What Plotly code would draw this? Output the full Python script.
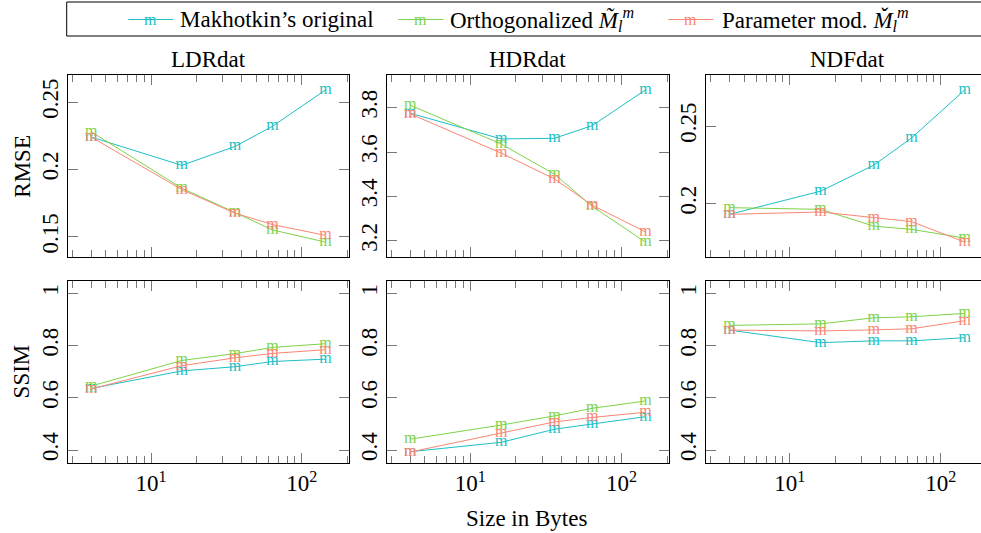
import numpy as np
import plotly.graph_objects as go

# ---------------- data ----------------
sizes = [4, 16, 36, 64, 144]
datasets = ["LDRdat", "HDRdat", "NDFdat"]
metrics = ["RMSE", "SSIM"]
series_names = [
    "Makhotkin’s original",
    "Orthogonalized <i>M̃</i><sub><i>l</i></sub><sup><i>m</i></sup>",
    "Parameter mod. <i>M̌</i><sub><i>l</i></sub><sup><i>m</i></sup>",
]
marker_text = "m"

ldr_rmse_orig = [0.224, 0.203, 0.217, 0.232, 0.259]
ldr_rmse_orth = [0.228, 0.186, 0.168, 0.155, 0.146]
ldr_rmse_param = [0.224, 0.185, 0.1675, 0.159, 0.151]

hdr_rmse_orig = [3.775, 3.659, 3.662, 3.719, 3.88]
hdr_rmse_orth = [3.811, 3.636, 3.50, 3.355, 3.194]
hdr_rmse_param = [3.772, 3.595, 3.479, 3.36, 3.24]

ndf_rmse_orig = [0.1931, 0.208, 0.2248, 0.2423, 0.2733]
ndf_rmse_orth = [0.1974, 0.1963, 0.1855, 0.1834, 0.1778]
ndf_rmse_param = [0.1931, 0.1946, 0.191, 0.1884, 0.1752]

ldr_ssim_orig = [0.636, 0.703, 0.719, 0.739, 0.748]
ldr_ssim_orth = [0.645, 0.743, 0.769, 0.793, 0.807]
ldr_ssim_param = [0.634, 0.723, 0.753, 0.770, 0.784]

hdr_ssim_orig = [0.394, 0.43, 0.48, 0.499, 0.528]
hdr_ssim_orth = [0.442, 0.496, 0.531, 0.56, 0.588]
hdr_ssim_param = [0.393, 0.464, 0.508, 0.525, 0.545]

ndf_ssim_orig = [0.859, 0.811, 0.818, 0.818, 0.83]
ndf_ssim_orth = [0.877, 0.883, 0.906, 0.91, 0.923]
ndf_ssim_param = [0.859, 0.856, 0.86, 0.864, 0.895]

x_major_ticks = [10, 100]
x_major_labels = ["10<sup>1</sup>", "10<sup>2</sup>"]
x_minor_ticks = [3, 4, 5, 6, 7, 8, 9, 20, 30, 40, 50, 60, 70, 80, 90, 200]
rmse_ticks = {"LDRdat": [0.15, 0.2, 0.25],
              "HDRdat": [3.2, 3.4, 3.6, 3.8],
              "NDFdat": [0.2, 0.25]}
ssim_ticks = [0.4, 0.6, 0.8, 1]
ssim_range = [0.352, 1.048]

panels = {
    ("RMSE", "LDRdat"): [ldr_rmse_orig, ldr_rmse_orth, ldr_rmse_param],
    ("RMSE", "HDRdat"): [hdr_rmse_orig, hdr_rmse_orth, hdr_rmse_param],
    ("RMSE", "NDFdat"): [ndf_rmse_orig, ndf_rmse_orth, ndf_rmse_param],
    ("SSIM", "LDRdat"): [ldr_ssim_orig, ldr_ssim_orth, ldr_ssim_param],
    ("SSIM", "HDRdat"): [hdr_ssim_orig, hdr_ssim_orth, hdr_ssim_param],
    ("SSIM", "NDFdat"): [ndf_ssim_orig, ndf_ssim_orth, ndf_ssim_param],
}

# ---------------- style ----------------
W, H = 981, 533
colors = ["#1dbfc4", "#7fd24a", "#fa8674"]
FONT = "Liberation Serif, Times New Roman, serif"
FS = 23
MS = 16


def px(x):
    return x / W


def py(y):
    return 1 - y / H


cols_px = [(67.7, 349.0), (386.7, 669.0), (706.0, 988.3)]
rows_px = [(74.7, 257.3), (280.7, 462.7)]

lx = np.log10(sizes)
xlo = lx.min() - 0.1 * (lx.max() - lx.min())
xhi = lx.max() + 0.1 * (lx.max() - lx.min())

fig = go.Figure()
layout = {}

for r, metric in enumerate(metrics):
    for c, ds in enumerate(datasets):
        k = r * 3 + c + 1
        xa = "x" if k == 1 else f"x{k}"
        ya = "y" if k == 1 else f"y{k}"
        series = panels[(metric, ds)]
        for name, vals, col in zip(series_names, series, colors):
            fig.add_trace(go.Scatter(
                x=sizes, y=vals, xaxis=xa, yaxis=ya,
                mode="lines+text", text=[marker_text] * len(sizes),
                textposition="middle center",
                textfont=dict(family=FONT, size=MS, color=col),
                line=dict(color=col, width=1),
                name=name, showlegend=False, hoverinfo="skip",
            ))
        x0p, x1p = cols_px[c]
        hi = xhi
        if x1p > W:
            hi = xlo + (xhi - xlo) * (W - x0p) / (x1p - x0p)
            x1p = W
        y0p, y1p = rows_px[r]
        if metric == "RMSE":
            allv = np.concatenate([np.array(s) for s in series])
            span = allv.max() - allv.min()
            yr = [allv.min() - 0.1 * span, allv.max() + 0.1 * span]
            yt = rmse_ticks[ds]
        else:
            yr = ssim_range
            yt = ssim_ticks
        layout["xaxis" if k == 1 else f"xaxis{k}"] = dict(
            type="log", range=[xlo, hi], domain=[px(x0p), px(x1p)],
            anchor=ya, showgrid=False, zeroline=False,
            showline=True, linecolor="black", linewidth=1, mirror="ticks",
            ticks="inside", ticklen=10, tickwidth=1, tickcolor="#777",
            tickmode="array", tickvals=x_major_ticks,
            ticktext=x_major_labels, showticklabels=(r == 1),
            tickfont=dict(family=FONT, size=FS, color="black"),
            minor=dict(tickmode="array", tickvals=x_minor_ticks,
                       ticks="inside", ticklen=7, tickwidth=1,
                       tickcolor="#777", showgrid=False),
        )
        layout["yaxis" if k == 1 else f"yaxis{k}"] = dict(
            range=yr, domain=[py(y1p), py(y0p)], anchor=xa,
            showgrid=False, zeroline=False,
            showline=True, linecolor="black", linewidth=1,
            mirror=("ticks" if c < 2 else False),
            ticks="inside", ticklen=10, tickwidth=1, tickcolor="#777",
            tickmode="array", tickvals=yt, tickangle=-90,
            tickfont=dict(family=FONT, size=FS, color="black"),
        )

annotations = []
# column titles
for c, ds in enumerate(datasets):
    x0p, x1p = cols_px[c]
    annotations.append(dict(text=ds, x=px((x0p + x1p) / 2), y=py(59),
                            xref="paper", yref="paper", showarrow=False,
                            xanchor="center", yanchor="middle",
                            font=dict(family=FONT, size=FS, color="black")))
# row titles
for r, metric in enumerate(metrics):
    y0p, y1p = rows_px[r]
    annotations.append(dict(text=metric, x=px(21.7), y=py((y0p + y1p) / 2),
                            xref="paper", yref="paper", showarrow=False,
                            textangle=-90, xanchor="center", yanchor="middle",
                            font=dict(family=FONT, size=FS, color="black")))
annotations.append(dict(text="Size in Bytes", x=px(526.7), y=py(518.3),
                        xref="paper", yref="paper", showarrow=False,
                        xanchor="center", yanchor="middle",
                        font=dict(family=FONT, size=FS, color="black")))

# legend (drawn manually so the text-markers can be shown)
shapes = [dict(type="rect", xref="paper", yref="paper",
               x0=px(66.7), x1=px(995), y0=py(36), y1=py(2),
               line=dict(color="black", width=1), fillcolor="rgba(0,0,0,0)")]
leg_line_px = [(128.3, 173.3), (398.3, 443.3), (668.3, 713.3)]
leg_text_px = [178.3, 448.3, 720.0]
leg_y = 19.5
for name, col, (a, b), tx in zip(series_names, colors, leg_line_px, leg_text_px):
    shapes.append(dict(type="line", xref="paper", yref="paper",
                       x0=px(a), x1=px(b), y0=py(leg_y), y1=py(leg_y),
                       line=dict(color=col, width=1)))
    annotations.append(dict(text=marker_text, x=px((a + b) / 2), y=py(leg_y),
                            xref="paper", yref="paper", showarrow=False,
                            xanchor="center", yanchor="middle",
                            font=dict(family=FONT, size=MS, color=col)))
    annotations.append(dict(text=name, x=px(tx), y=py(leg_y),
                            xref="paper", yref="paper", showarrow=False,
                            xanchor="left", yanchor="middle",
                            font=dict(family=FONT, size=FS, color="black")))

fig.update_layout(
    width=W, height=H, autosize=False,
    margin=dict(l=0, r=0, t=0, b=0),
    paper_bgcolor="white", plot_bgcolor="white",
    hovermode=False, showlegend=False,
    annotations=annotations, shapes=shapes,
    **layout,
)

fig.write_html("out.html",
               config={"displayModeBar": False, "staticPlot": True},
               post_script="document.body.style.margin='0';"
                           "document.body.style.overflow='hidden';")
